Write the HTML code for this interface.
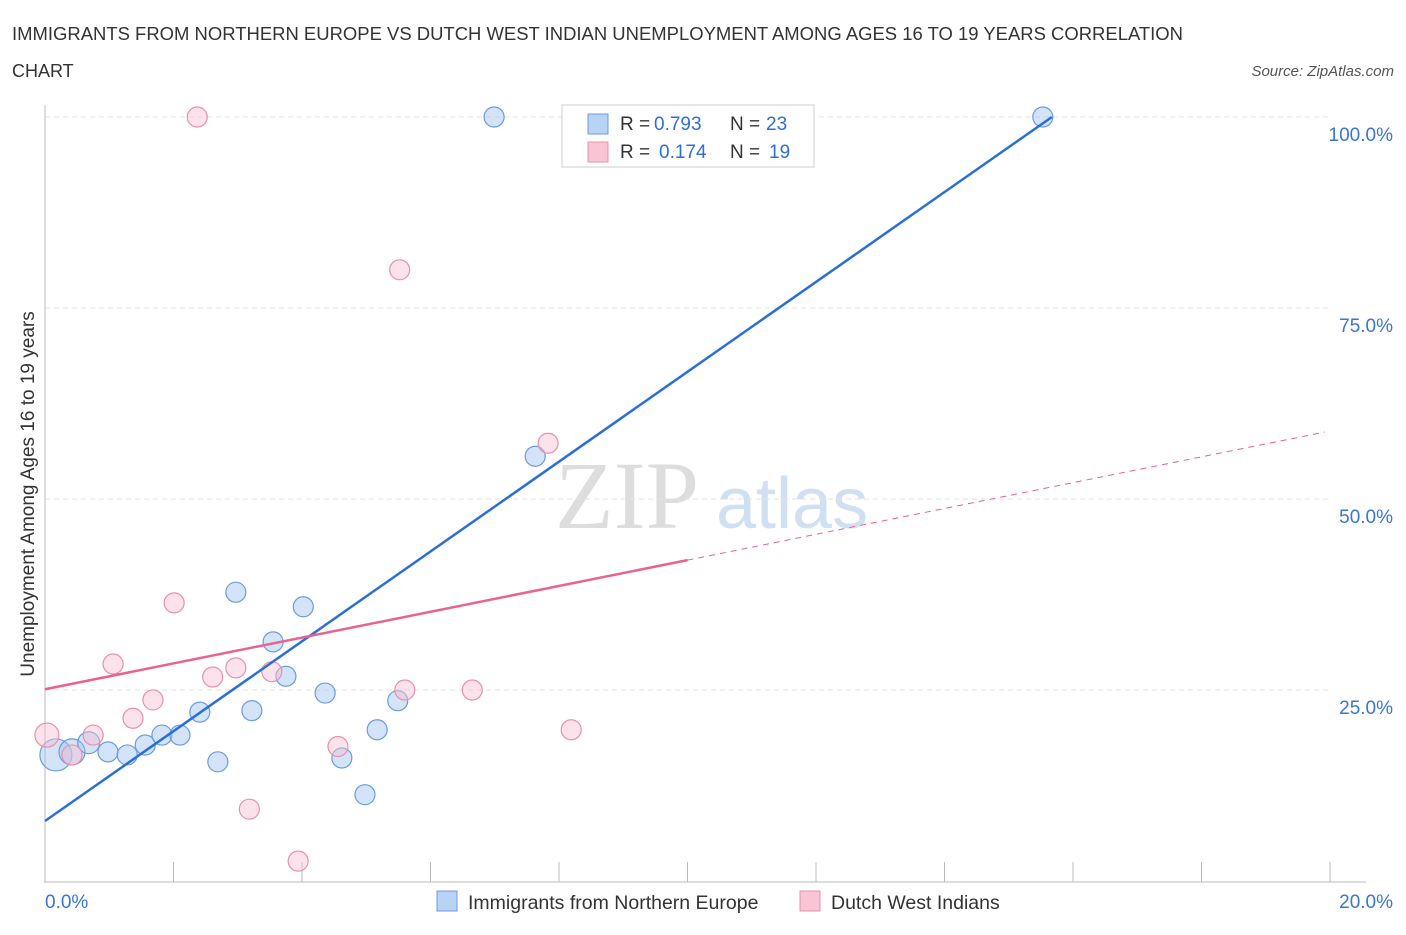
<!DOCTYPE html>
<html><head><meta charset="utf-8"><style>
body{margin:0;background:#fff;font-family:"Liberation Sans",sans-serif}
</style></head><body>
<svg id="chart" width="1406" height="930" xmlns="http://www.w3.org/2000/svg" font-family="Liberation Sans, sans-serif">
<text x="12" y="40" font-size="18" fill="#333" textLength="1171" lengthAdjust="spacingAndGlyphs">IMMIGRANTS FROM NORTHERN EUROPE VS DUTCH WEST INDIAN UNEMPLOYMENT AMONG AGES 16 TO 19 YEARS CORRELATION</text>
<text x="12" y="77" font-size="18" fill="#333">CHART</text>
<text x="1394" y="76" font-size="15" fill="#555" font-style="italic" text-anchor="end">Source: ZipAtlas.com</text>
<text x="555" y="528" font-size="96" fill="#ddd" font-family="Liberation Serif, serif">ZIP</text>
<text x="716" y="528" font-size="72" fill="#cfe0f3">atlas</text>
<g id="grid"></g>
<g id="axes"></g>
<g id="marks"></g>
<text transform="translate(34,494) rotate(-90)" font-size="19" fill="#333" text-anchor="middle">Unemployment Among Ages 16 to 19 years</text>
<g>
<rect x="562" y="105" width="252" height="62" fill="#fff" stroke="#ccc"/>
<rect x="588" y="114" width="20" height="20" fill="#b9d3f5" stroke="#6a9be0"/>
<rect x="588" y="142" width="20" height="20" fill="#f9c5d4" stroke="#ea8fab"/>
<text x="620" y="130" font-size="19" fill="#333">R =</text>
<text x="654" y="130" font-size="19" fill="#2f6fd4">0.793</text>
<text x="730" y="130" font-size="19" fill="#333">N =</text>
<text x="766" y="130" font-size="19" fill="#2f6fd4">23</text>
<text x="620" y="158" font-size="19" fill="#333">R =</text>
<text x="659" y="158" font-size="19" fill="#2f6fd4">0.174</text>
<text x="730" y="158" font-size="19" fill="#333">N =</text>
<text x="769" y="158" font-size="19" fill="#2f6fd4">19</text>
</g>
<g>
<rect x="437" y="891" width="20" height="20" fill="#b9d3f5" stroke="#6a9be0"/>
<text x="468" y="909" font-size="19.5" fill="#333">Immigrants from Northern Europe</text>
<rect x="800" y="891" width="20" height="20" fill="#f9c5d4" stroke="#ea8fab"/>
<text x="831" y="909" font-size="19.5" fill="#333">Dutch West Indians</text>
</g>
</svg>
<script>
const blueX=[0.17,0.42,0.68,0.98,1.28,1.56,1.82,2.10,2.41,2.69,2.97,3.22,3.55,3.75,4.02,4.36,4.62,4.98,5.17,5.49,6.99,7.63,15.53];
const blueY=[16.5,16.9,18.1,16.9,16.5,17.8,19.1,19.1,22.1,15.6,37.8,22.3,31.3,26.8,35.9,24.6,16.1,11.3,19.8,23.6,100,55.6,100];
const blueR=[16,13,11,10,10,10,10,10,10,10,10,10,10,10,10,10,10,10,10,10,10,10,10];
const pinkX=[0.03,0.42,0.75,1.06,1.37,1.68,2.01,2.37,2.61,2.97,3.18,3.53,3.94,4.56,5.52,5.60,6.65,7.83,8.19];
const pinkY=[19.1,16.5,19.1,28.4,21.3,23.7,36.4,100,26.7,27.9,9.4,27.4,2.6,17.6,80,25.0,25.0,57.3,19.8];
const blueTrend=[7.85,5.88];
const pinkTrend=[25.1,1.69];
const yTicks=[25,50,75,100];
const yTickLabels=["25.0%","50.0%","75.0%","100.0%"];
const xTicks=[0,2,4,6,8,10,12,14,16,18,20];
const NS="http://www.w3.org/2000/svg";
const X=v=>45+v*64.25, Y=v=>881-v*7.64;
function mk(p,t,a){const e=document.createElementNS(NS,t);for(const k in a)e.setAttribute(k,a[k]);document.getElementById(p).appendChild(e);return e;}
yTicks.forEach((t,i)=>{
 const g=mk('grid','line',{x1:45,x2:1330,y1:Y(t),y2:Y(t),stroke:'#e2e2e2','stroke-dasharray':'5,4'});
 
 
 const l=mk('axes','text',{x:1393,y:Y(t)+24,'font-size':19,fill:'#3a75d0','text-anchor':'end'});
 l.textContent=yTickLabels[i];
 
 
});
const ya=mk('axes','line',{x1:45,x2:45,y1:105,y2:882,stroke:'#bbb'});


const xa=mk('axes','line',{x1:44,x2:1366,y1:882,y2:882,stroke:'#bbb'});


xTicks.forEach(t=>{const e=mk('axes','line',{x1:X(t),x2:X(t),y1:862,y2:882,stroke:'#bbb'});
 
 });
[["0.0%",45,'start'],["20.0%",1393,'end']].forEach(a=>{const e=mk('axes','text',{x:a[1],y:908,'font-size':19,fill:'#3a75d0','text-anchor':a[2]});e.textContent=a[0];
 
 });
blueX.forEach((x,i)=>{const c=mk('marks','circle',{cx:X(x),cy:Y(blueY[i]),r:blueR[i],fill:'rgba(160,195,240,0.45)',stroke:'#6a9be0','stroke-width':1.2});
 
 });
pinkX.forEach((x,i)=>{const c=mk('marks','circle',{cx:X(x),cy:Y(pinkY[i]),r:i==0?12:10,fill:'rgba(248,190,210,0.45)',stroke:'#ea8fab','stroke-width':1.2});
 
 });
const bx2=(100-blueTrend[0])/blueTrend[1];
const bl=mk('marks','line',{x1:X(0),y1:Y(blueTrend[0]),x2:X(bx2),y2:Y(100),stroke:'#2a6fd6','stroke-width':2.5});


const pl=mk('marks','line',{x1:X(0),y1:Y(pinkTrend[0]),x2:X(10),y2:Y(pinkTrend[0]+10*pinkTrend[1]),stroke:'#e8638e','stroke-width':2.5});


const pd=mk('marks','line',{x1:X(10),y1:Y(pinkTrend[0]+10*pinkTrend[1]),x2:X(19.92),y2:Y(pinkTrend[0]+19.92*pinkTrend[1]),stroke:'#e8638e','stroke-width':1,'stroke-dasharray':'6,5'});


</script>
</body></html>
